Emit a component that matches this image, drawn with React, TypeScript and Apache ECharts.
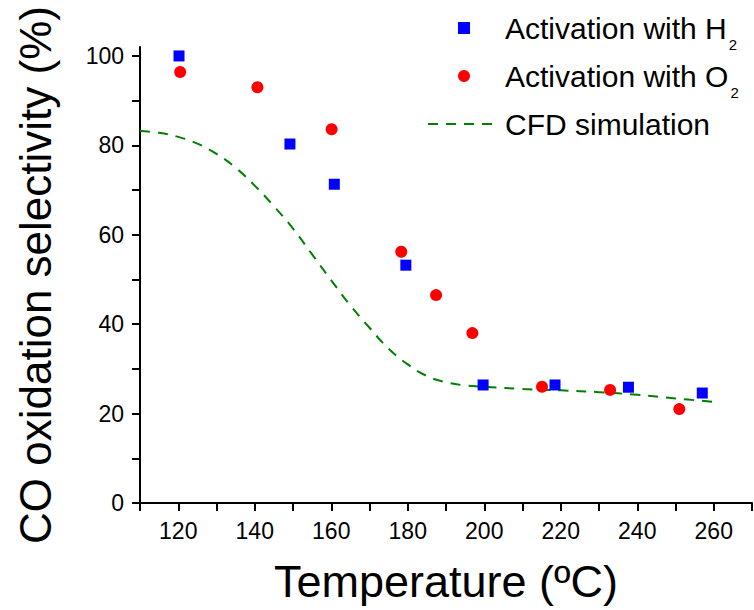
import React, { useEffect, useRef } from 'react';
import * as echarts from 'echarts';

const h2Temps = [120.2, 149.2, 160.8, 179.5, 199.7, 218.5, 237.7, 257.0];
const h2Values = [100, 80.3, 71.3, 53.2, 26.4, 26.4, 25.9, 24.6];
const o2Temps = [120.5, 140.7, 160.1, 178.3, 187.4, 196.9, 215.1, 232.9, 251.0];
const o2Values = [96.4, 93.0, 83.6, 56.2, 46.5, 38.0, 26.0, 25.3, 21.0];
const cfdTemps = [110, 115, 120, 125, 130, 135, 140, 145, 150, 155, 160, 165, 170, 175, 180, 185, 190, 195, 200, 210, 220, 230, 240, 250, 260];
const cfdValues = [83.2, 82.8, 81.9, 80.4, 78.1, 75.0, 71.0, 66.4, 61.4, 55.6, 49.8, 44.2, 39.2, 34.5, 31.0, 28.4, 27.0, 26.3, 26.0, 25.5, 25.2, 24.8, 24.2, 23.4, 22.6];
const xTickValues = [110, 120, 130, 140, 150, 160, 170, 180, 190, 200, 210, 220, 230, 240, 250, 260, 270];
const xLabelValues = [120, 140, 160, 180, 200, 220, 240, 260];
const yTickValues = [0, 10, 20, 30, 40, 50, 60, 70, 80, 90, 100];
const yLabelValues = [0, 20, 40, 60, 80, 100];

const seriesNames = ['Activation with H2', 'Activation with O2', 'CFD simulation'];
const FONT = 'Arial';

export default function App() {
  const ref = useRef<HTMLDivElement>(null);
  useEffect(() => {
    if (!ref.current) return;
    const chart = echarts.init(ref.current, null, { renderer: 'svg' });
    const axisCommon = {
      axisLine: { show: true, onZero: false, lineStyle: { color: '#000', width: 2 } },
      axisTick: { show: true, inside: false, length: 8, lineStyle: { color: '#000', width: 2 } },
      splitLine: { show: false },
    };
    chart.setOption({
      animation: false,
      backgroundColor: '#fff',
      textStyle: { fontFamily: FONT },
      grid: { left: 140, right: 2, top: 47, bottom: 107, outerBoundsMode: 'none' },
      legend: {
        orient: 'vertical',
        left: 427,
        top: 4,
        padding: 0,
        itemGap: 0,
        itemWidth: 72,
        itemHeight: 12,
        symbolKeepAspect: true,
        data: [
          { name: seriesNames[0], icon: 'path://M0 0H10V10H0Z' },
          { name: seriesNames[1], icon: 'circle' },
          { name: seriesNames[2], itemStyle: { opacity: 0 } },
        ],
        formatter: (name: string) => {
          if (name === seriesNames[0]) return 'Activation with H{sub|2}';
          if (name === seriesNames[1]) return 'Activation with O{sub|2}';
          return name;
        },
        textStyle: {
          fontSize: 30,
          lineHeight: 48,
          color: '#000',
          fontFamily: FONT,
          rich: {
            sub: { fontSize: 15, lineHeight: 15, verticalAlign: 'bottom', color: '#000', fontFamily: FONT, padding: [0, 0, 0, 2] },
          },
        },
      },
      xAxis: {
        type: 'value',
        min: 110,
        max: 270,
        interval: 10,
        name: 'Temperature (ºC)',
        nameLocation: 'middle',
        nameGap: 56,
        nameTextStyle: { fontSize: 45, color: '#000', fontFamily: FONT },
        ...axisCommon,
        axisTick: { ...axisCommon.axisTick, customValues: xTickValues },
        axisLabel: { fontSize: 23, color: '#000', margin: 16, fontFamily: FONT, customValues: xLabelValues },
      },
      yAxis: {
        type: 'value',
        min: 0,
        max: 102,
        interval: 10,
        name: 'CO oxidation selectivity (%)',
        nameLocation: 'middle',
        nameGap: 83,
        nameTextStyle: { fontSize: 44, color: '#000', fontFamily: FONT },
        ...axisCommon,
        axisTick: { ...axisCommon.axisTick, customValues: yTickValues },
        axisLabel: { fontSize: 23, color: '#000', margin: 16, fontFamily: FONT, customValues: yLabelValues },
      },
      series: [
        {
          name: seriesNames[0],
          type: 'scatter',
          symbol: 'rect',
          symbolSize: 11,
          itemStyle: { color: '#0000ff', opacity: 1 },
          data: h2Temps.map((t, i) => [t, h2Values[i]]),
          z: 3,
        },
        {
          name: seriesNames[1],
          type: 'scatter',
          symbol: 'circle',
          symbolSize: 12,
          itemStyle: { color: '#ff0000', opacity: 1 },
          data: o2Temps.map((t, i) => [t, o2Values[i]]),
          z: 3,
        },
        {
          name: seriesNames[2],
          type: 'line',
          smooth: 0.4,
          symbol: 'none',
          showSymbol: false,
          lineStyle: { color: '#008000', width: 2, type: [10, 8] },
          itemStyle: { color: '#008000' },
          data: cfdTemps.map((t, i) => [t, cfdValues[i]]),
          z: 2,
        },
      ],
    });
    return () => chart.dispose();
  }, []);
  return <div ref={ref} style={{ position: 'fixed', left: 0, top: 0, width: 754, height: 610 }} />;
}
